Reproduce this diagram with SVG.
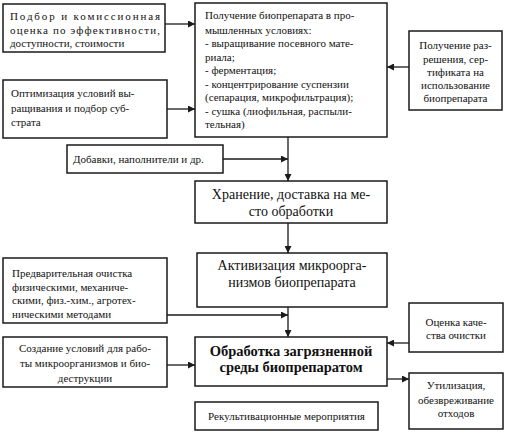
<svg xmlns="http://www.w3.org/2000/svg" width="505" height="434" viewBox="0 0 505 434">
<style>
.box{fill:#fff;stroke:#1a1a1a;stroke-width:1.5}
text{font-family:'Liberation Serif','DejaVu Serif',serif;fill:#111}
.t{font-size:11px}
.m{font-size:14px}
.b{font-size:14.5px;font-weight:bold}
.c{text-anchor:middle}
.ln{fill:none;stroke:#1a1a1a;stroke-width:1.3}
</style>
<defs>
<marker id="ar" viewBox="0 0 10 10" refX="10" refY="5" markerWidth="7" markerHeight="7" markerUnits="userSpaceOnUse" orient="auto">
<path d="M0,0 L10,5 L0,10 z" fill="#1a1a1a"/>
</marker>
</defs>
<rect width="505" height="434" fill="#fff"/>
<g id="connectors">
<line class="ln" x1="165" y1="24" x2="195" y2="24" marker-end="url(#ar)"/>
<line class="ln" x1="167" y1="109" x2="195" y2="109" marker-end="url(#ar)"/>
<line class="ln" x1="409" y1="67" x2="387" y2="67" marker-end="url(#ar)"/>
<line class="ln" x1="288" y1="137" x2="288" y2="181" marker-end="url(#ar)"/>
<line class="ln" x1="223" y1="159" x2="288" y2="159" marker-end="url(#ar)"/>
<line class="ln" x1="288" y1="223" x2="288" y2="253" marker-end="url(#ar)"/>
<line class="ln" x1="288" y1="307" x2="288" y2="337" marker-end="url(#ar)"/>
<line class="ln" x1="167" y1="315" x2="288" y2="315" marker-end="url(#ar)"/>
<line class="ln" x1="409" y1="343" x2="387" y2="343" marker-end="url(#ar)"/>
<line class="ln" x1="167" y1="365" x2="195" y2="365" marker-end="url(#ar)"/>
<line class="ln" x1="387" y1="379" x2="409" y2="379" marker-end="url(#ar)"/>
</g>
<g id="n-podbor">
<rect class="box" x="3" y="4" width="162" height="48"/>
<text class="t" x="10" y="20" textLength="150" lengthAdjust="spacing">Подбор и комиссионная</text>
<text class="t" x="10" y="34" textLength="150" lengthAdjust="spacing">оценка по эффективности,</text>
<text class="t" x="10" y="47">доступности, стоимости</text>
</g>
<g id="n-optim">
<rect class="box" x="3" y="80" width="164" height="58"/>
<text class="t" x="11" y="97">Оптимизация условий вы-</text>
<text class="t" x="11" y="112">ращивания и подбор суб-</text>
<text class="t" x="11" y="126">страта</text>
</g>
<g id="n-poluchenie">
<rect class="box" x="195" y="3" width="192" height="134"/>
<text class="t" x="205" y="19">Получение биопрепарата в про-</text>
<text class="t" x="205" y="34">мышленных условиях:</text>
<text class="t" x="205" y="47">- выращивание посевного мате-</text>
<text class="t" x="205" y="61">риала;</text>
<text class="t" x="205" y="74">- ферментация;</text>
<text class="t" x="205" y="88">- концентрирование суспензии</text>
<text class="t" x="205" y="101">(сепарация, микрофильтрация);</text>
<text class="t" x="205" y="115">- сушка (лиофильная, распыли-</text>
<text class="t" x="205" y="128">тельная)</text>
</g>
<g id="n-razreshenie">
<rect class="box" x="409" y="31" width="93" height="79"/>
<text class="t c" x="455.5" y="49">Получение раз-</text>
<text class="t c" x="455.5" y="63">решения, сер-</text>
<text class="t c" x="455.5" y="76">тификата на</text>
<text class="t c" x="455.5" y="89">использование</text>
<text class="t c" x="455.5" y="102">биопрепарата</text>
</g>
<g id="n-dobavki">
<rect class="box" x="67" y="145" width="156" height="28"/>
<text class="t" x="73" y="163">Добавки, наполнители и др.</text>
</g>
<g id="n-hranenie">
<rect class="box" x="195" y="181" width="192" height="42"/>
<text class="m c" x="291" y="199">Хранение, доставка на ме-</text>
<text class="m c" x="291" y="216">сто обработки</text>
</g>
<g id="n-aktiv">
<rect class="box" x="197" y="253" width="190" height="54"/>
<text class="m c" x="292" y="270">Активизация микроорга-</text>
<text class="m c" x="292" y="287">низмов биопрепарата</text>
</g>
<g id="n-predv">
<rect class="box" x="3" y="258" width="164" height="65"/>
<text class="t" x="12" y="277">Предварительная очистка</text>
<text class="t" x="12" y="291">физическими, механиче-</text>
<text class="t" x="12" y="304">скими, физ.-хим., агротех-</text>
<text class="t" x="12" y="318">ническими методами</text>
</g>
<g id="n-ocenka">
<rect class="box" x="409" y="303" width="94" height="49"/>
<text class="t c" x="456" y="326">Оценка каче-</text>
<text class="t c" x="456" y="339">ства очистки</text>
</g>
<g id="n-sozdanie">
<rect class="box" x="3" y="337" width="164" height="50"/>
<text class="t c" x="85" y="352">Создание условий для рабо-</text>
<text class="t c" x="85" y="367">ты микроорганизмов и био-</text>
<text class="t c" x="85" y="382">деструкции</text>
</g>
<g id="n-obrabotka">
<rect class="box" x="195" y="337" width="192" height="49"/>
<text class="b c" x="291" y="356">Обработка загрязненной</text>
<text class="b c" x="291" y="372">среды биопрепаратом</text>
</g>
<g id="n-utiliz">
<rect class="box" x="409" y="373" width="94" height="56"/>
<text class="t c" x="456" y="389">Утилизация,</text>
<text class="t c" x="456" y="404">обезвреживание</text>
<text class="t c" x="456" y="417">отходов</text>
</g>
<g id="n-rekult">
<rect class="box" x="195" y="402" width="183" height="28"/>
<text class="t c" x="286.5" y="420">Рекультивационные мероприятия</text>
</g>
</svg>
